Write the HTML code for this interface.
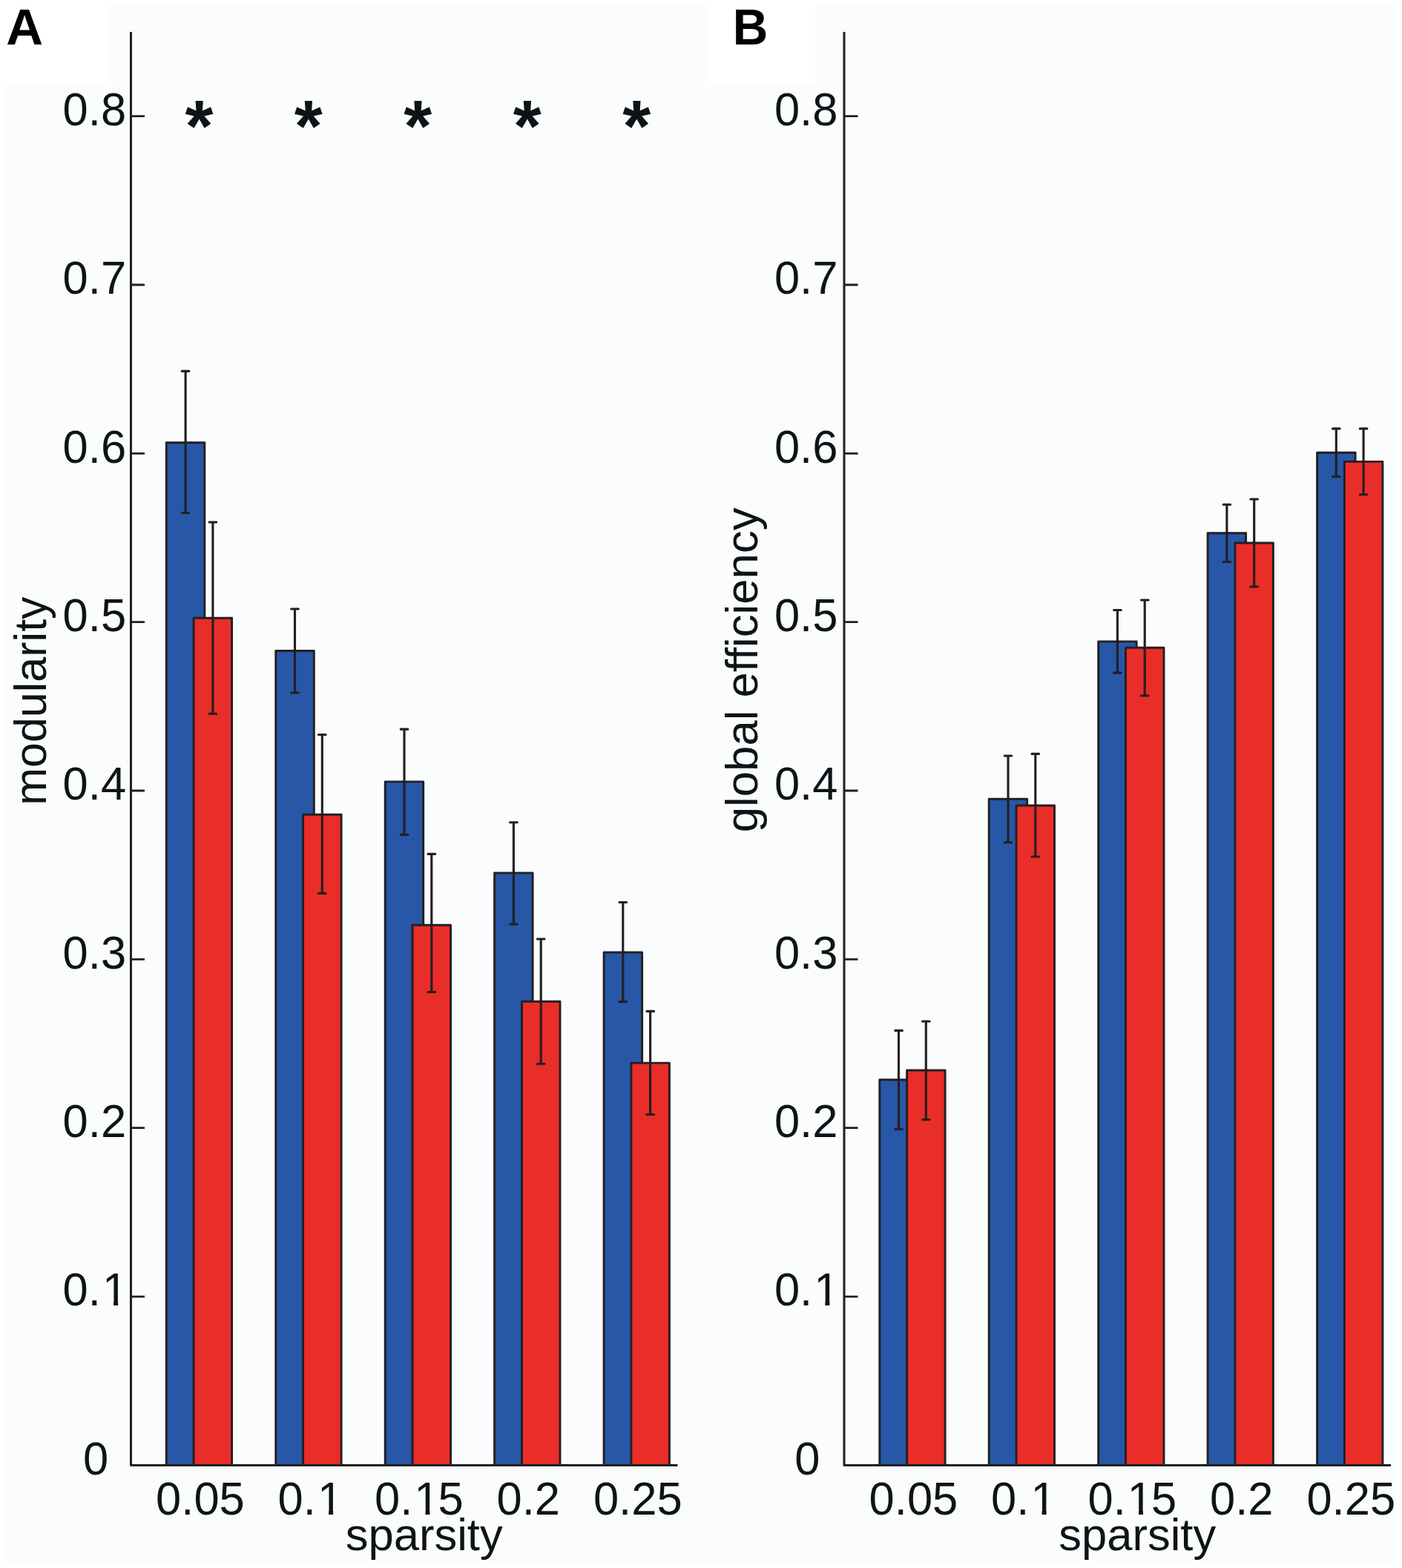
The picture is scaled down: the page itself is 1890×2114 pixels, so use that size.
<!DOCTYPE html>
<html><head><meta charset="utf-8"><title>modularity and global efficiency</title>
<style>
html,body{margin:0;padding:0;background:#fff;}
body{width:1890px;height:2114px;overflow:hidden;}
svg{display:block;font-family:"Liberation Sans",Arial,Helvetica,sans-serif;font-size:61.5px;fill:#0e1416;}
</style></head>
<body>
<svg width="1890" height="2114" viewBox="0 0 1890 2114">
<defs><clipPath id="c1" clipPathUnits="userSpaceOnUse"><rect x="-20" y="-90" width="200" height="84.21"/><rect x="-20" y="-5.79" width="75.48" height="40"/><rect x="68.47" y="-5.79" width="6.04" height="40"/><rect x="86.70" y="-5.79" width="100" height="40"/></clipPath><clipPath id="c15" clipPathUnits="userSpaceOnUse"><rect x="-20" y="-90" width="200" height="84.21"/><rect x="-20" y="-5.79" width="75.48" height="40"/><rect x="68.47" y="-5.79" width="6.04" height="40"/><rect x="86.70" y="-5.79" width="100" height="40"/></clipPath></defs>
<rect x="7" y="7" width="1874" height="2099" fill="#fbfcfd"/>
<rect x="0" y="0" width="147" height="112" fill="#fff"/>
<rect x="956" y="7" width="143" height="107" fill="#fff"/>
<rect x="224.3" y="596.7" width="51.5" height="1378.7" fill="#2757a6" stroke="#231f20" stroke-width="2.9" stroke-linejoin="round"/>
<path d="M250.1 500.4V691.5M245.2 500.4h9.6M245.2 691.5h9.6" stroke="#231f20" stroke-width="3.1" fill="none" stroke-linecap="round"/>
<rect x="261.1" y="833.3" width="51.5" height="1142.1" fill="#e92d29" stroke="#231f20" stroke-width="2.9" stroke-linejoin="round"/>
<path d="M286.9 704.0V962.2M282.1 704.0h9.6M282.1 962.2h9.6" stroke="#231f20" stroke-width="3.1" fill="none" stroke-linecap="round"/>
<rect x="371.8" y="877.5" width="51.5" height="1097.9" fill="#2757a6" stroke="#231f20" stroke-width="2.9" stroke-linejoin="round"/>
<path d="M397.5 821.0V934.0M392.7 821.0h9.6M392.7 934.0h9.6" stroke="#231f20" stroke-width="3.1" fill="none" stroke-linecap="round"/>
<rect x="408.6" y="1098.2" width="51.5" height="877.2" fill="#e92d29" stroke="#231f20" stroke-width="2.9" stroke-linejoin="round"/>
<path d="M434.3 990.5V1204.4M429.5 990.5h9.6M429.5 1204.4h9.6" stroke="#231f20" stroke-width="3.1" fill="none" stroke-linecap="round"/>
<rect x="519.2" y="1053.9" width="51.5" height="921.5" fill="#2757a6" stroke="#231f20" stroke-width="2.9" stroke-linejoin="round"/>
<path d="M545.0 983.1V1125.4M540.2 983.1h9.6M540.2 1125.4h9.6" stroke="#231f20" stroke-width="3.1" fill="none" stroke-linecap="round"/>
<rect x="556.0" y="1247.3" width="51.5" height="728.1" fill="#e92d29" stroke="#231f20" stroke-width="2.9" stroke-linejoin="round"/>
<path d="M581.8 1151.4V1337.5M577.0 1151.4h9.6M577.0 1337.5h9.6" stroke="#231f20" stroke-width="3.1" fill="none" stroke-linecap="round"/>
<rect x="666.6" y="1176.9" width="51.5" height="798.5" fill="#2757a6" stroke="#231f20" stroke-width="2.9" stroke-linejoin="round"/>
<path d="M692.4 1108.7V1246.0M687.6 1108.7h9.6M687.6 1246.0h9.6" stroke="#231f20" stroke-width="3.1" fill="none" stroke-linecap="round"/>
<rect x="703.5" y="1350.2" width="51.5" height="625.2" fill="#e92d29" stroke="#231f20" stroke-width="2.9" stroke-linejoin="round"/>
<path d="M729.2 1266.0V1434.2M724.4 1266.0h9.6M724.4 1434.2h9.6" stroke="#231f20" stroke-width="3.1" fill="none" stroke-linecap="round"/>
<rect x="814.1" y="1284.0" width="51.5" height="691.4" fill="#2757a6" stroke="#231f20" stroke-width="2.9" stroke-linejoin="round"/>
<path d="M839.8 1216.5V1350.6M835.0 1216.5h9.6M835.0 1350.6h9.6" stroke="#231f20" stroke-width="3.1" fill="none" stroke-linecap="round"/>
<rect x="850.9" y="1433.1" width="51.5" height="542.3" fill="#e92d29" stroke="#231f20" stroke-width="2.9" stroke-linejoin="round"/>
<path d="M876.6 1363.4V1502.6M871.9 1363.4h9.6M871.9 1502.6h9.6" stroke="#231f20" stroke-width="3.1" fill="none" stroke-linecap="round"/>
<path d="M176.5 43V1975.6000000000001H913.5" stroke="#231f20" stroke-width="3" fill="none" stroke-linejoin="round"/>
<path d="M176.5 1748.1H195.0M176.5 1520.7H195.0M176.5 1293.4H195.0M176.5 1066.0H195.0M176.5 838.7H195.0M176.5 611.4H195.0M176.5 384.0H195.0M176.5 156.7H195.0" stroke="#231f20" stroke-width="2.8" fill="none"/>
<text transform="translate(112.0 1987.7) scale(1 1.025)">0</text>
<text transform="translate(84.6 1760.4) scale(1 1.025)" clip-path="url(#c1)">0.<tspan dx="2">1</tspan></text>
<text transform="translate(84.6 1533.0) scale(1 1.025)">0.2</text>
<text transform="translate(84.6 1305.7) scale(1 1.025)">0.3</text>
<text transform="translate(84.6 1078.3) scale(1 1.025)">0.4</text>
<text transform="translate(84.6 851.0) scale(1 1.025)">0.5</text>
<text transform="translate(84.6 623.7) scale(1 1.025)">0.6</text>
<text transform="translate(84.6 396.3) scale(1 1.025)">0.7</text>
<text transform="translate(84.6 169.0) scale(1 1.025)">0.8</text>
<text transform="translate(210.1 2042.4) scale(1 1.025)">0.05</text>
<text transform="translate(374.6 2042.4) scale(1 1.025)" clip-path="url(#c1)">0.<tspan dx="2">1</tspan></text>
<text transform="translate(505.0 2042.4) scale(1 1.025)" clip-path="url(#c15)">0.<tspan dx="2">1</tspan><tspan dx="-2">5</tspan></text>
<text transform="translate(669.5 2042.4) scale(1 1.025)">0.2</text>
<text transform="translate(799.9 2042.4) scale(1 1.025)">0.25</text>
<text x="571.7" y="2089.6" text-anchor="middle">sparsity</text>
<text transform="translate(62.2 1085.8) rotate(-90)" font-size="61">modularity</text>
<text x="268.4" y="203.6" text-anchor="middle" font-weight="bold" font-size="97.6">*</text>
<text x="415.8" y="203.6" text-anchor="middle" font-weight="bold" font-size="97.6">*</text>
<text x="563.3" y="203.6" text-anchor="middle" font-weight="bold" font-size="97.6">*</text>
<text x="710.8" y="203.6" text-anchor="middle" font-weight="bold" font-size="97.6">*</text>
<text x="858.2" y="203.6" text-anchor="middle" font-weight="bold" font-size="97.6">*</text>
<rect x="1185.8" y="1455.8" width="51.5" height="519.6" fill="#2757a6" stroke="#231f20" stroke-width="2.9" stroke-linejoin="round"/>
<path d="M1211.5 1389.4V1522.2M1206.8 1389.4h9.6M1206.8 1522.2h9.6" stroke="#231f20" stroke-width="3.1" fill="none" stroke-linecap="round"/>
<rect x="1222.6" y="1443.0" width="51.5" height="532.4" fill="#e92d29" stroke="#231f20" stroke-width="2.9" stroke-linejoin="round"/>
<path d="M1248.3 1377.0V1509.5M1243.5 1377.0h9.6M1243.5 1509.5h9.6" stroke="#231f20" stroke-width="3.1" fill="none" stroke-linecap="round"/>
<rect x="1333.2" y="1077.3" width="51.5" height="898.1" fill="#2757a6" stroke="#231f20" stroke-width="2.9" stroke-linejoin="round"/>
<path d="M1359.0 1019.0V1135.8M1354.2 1019.0h9.6M1354.2 1135.8h9.6" stroke="#231f20" stroke-width="3.1" fill="none" stroke-linecap="round"/>
<rect x="1370.0" y="1086.0" width="51.5" height="889.4" fill="#e92d29" stroke="#231f20" stroke-width="2.9" stroke-linejoin="round"/>
<path d="M1395.8 1016.4V1155.0M1391.0 1016.4h9.6M1391.0 1155.0h9.6" stroke="#231f20" stroke-width="3.1" fill="none" stroke-linecap="round"/>
<rect x="1480.7" y="864.9" width="51.5" height="1110.5" fill="#2757a6" stroke="#231f20" stroke-width="2.9" stroke-linejoin="round"/>
<path d="M1506.4 822.5V907.1M1501.6 822.5h9.6M1501.6 907.1h9.6" stroke="#231f20" stroke-width="3.1" fill="none" stroke-linecap="round"/>
<rect x="1517.5" y="873.2" width="51.5" height="1102.2" fill="#e92d29" stroke="#231f20" stroke-width="2.9" stroke-linejoin="round"/>
<path d="M1543.2 809.0V938.0M1538.5 809.0h9.6M1538.5 938.0h9.6" stroke="#231f20" stroke-width="3.1" fill="none" stroke-linecap="round"/>
<rect x="1628.1" y="718.8" width="51.5" height="1256.6" fill="#2757a6" stroke="#231f20" stroke-width="2.9" stroke-linejoin="round"/>
<path d="M1653.9 680.2V757.5M1649.1 680.2h9.6M1649.1 757.5h9.6" stroke="#231f20" stroke-width="3.1" fill="none" stroke-linecap="round"/>
<rect x="1664.9" y="732.0" width="51.5" height="1243.4" fill="#e92d29" stroke="#231f20" stroke-width="2.9" stroke-linejoin="round"/>
<path d="M1690.7 673.0V791.0M1685.9 673.0h9.6M1685.9 791.0h9.6" stroke="#231f20" stroke-width="3.1" fill="none" stroke-linecap="round"/>
<rect x="1775.6" y="610.2" width="51.5" height="1365.2" fill="#2757a6" stroke="#231f20" stroke-width="2.9" stroke-linejoin="round"/>
<path d="M1801.3 577.9V642.8M1796.5 577.9h9.6M1796.5 642.8h9.6" stroke="#231f20" stroke-width="3.1" fill="none" stroke-linecap="round"/>
<rect x="1812.4" y="622.4" width="51.5" height="1353.0" fill="#e92d29" stroke="#231f20" stroke-width="2.9" stroke-linejoin="round"/>
<path d="M1838.1 577.9V666.8M1833.3 577.9h9.6M1833.3 666.8h9.6" stroke="#231f20" stroke-width="3.1" fill="none" stroke-linecap="round"/>
<path d="M1138.0 43V1975.6000000000001H1875.0" stroke="#231f20" stroke-width="3" fill="none" stroke-linejoin="round"/>
<path d="M1138.0 1748.1H1156.5M1138.0 1520.7H1156.5M1138.0 1293.4H1156.5M1138.0 1066.0H1156.5M1138.0 838.7H1156.5M1138.0 611.4H1156.5M1138.0 384.0H1156.5M1138.0 156.7H1156.5" stroke="#231f20" stroke-width="2.8" fill="none"/>
<text transform="translate(1071.3 1987.7) scale(1 1.025)">0</text>
<text transform="translate(1043.9 1760.4) scale(1 1.025)" clip-path="url(#c1)">0.<tspan dx="2">1</tspan></text>
<text transform="translate(1043.9 1533.0) scale(1 1.025)">0.2</text>
<text transform="translate(1043.9 1305.7) scale(1 1.025)">0.3</text>
<text transform="translate(1043.9 1078.3) scale(1 1.025)">0.4</text>
<text transform="translate(1043.9 851.0) scale(1 1.025)">0.5</text>
<text transform="translate(1043.9 623.7) scale(1 1.025)">0.6</text>
<text transform="translate(1043.9 396.3) scale(1 1.025)">0.7</text>
<text transform="translate(1043.9 169.0) scale(1 1.025)">0.8</text>
<text transform="translate(1171.6 2042.4) scale(1 1.025)">0.05</text>
<text transform="translate(1336.1 2042.4) scale(1 1.025)" clip-path="url(#c1)">0.<tspan dx="2">1</tspan></text>
<text transform="translate(1466.5 2042.4) scale(1 1.025)" clip-path="url(#c15)">0.<tspan dx="2">1</tspan><tspan dx="-2">5</tspan></text>
<text transform="translate(1631.0 2042.4) scale(1 1.025)">0.2</text>
<text transform="translate(1761.4 2042.4) scale(1 1.025)">0.25</text>
<text x="1533.2" y="2089.6" text-anchor="middle">sparsity</text>
<text transform="translate(1021.2 1122.2) rotate(-90)" font-size="61.7">global efficiency</text>
<text x="8.2" y="59.8" font-weight="bold" font-size="69" fill="#000">A</text>
<text transform="translate(987.7 60) scale(0.955 1)" font-weight="bold" font-size="69" fill="#000">B</text>
</svg>
</body></html>
